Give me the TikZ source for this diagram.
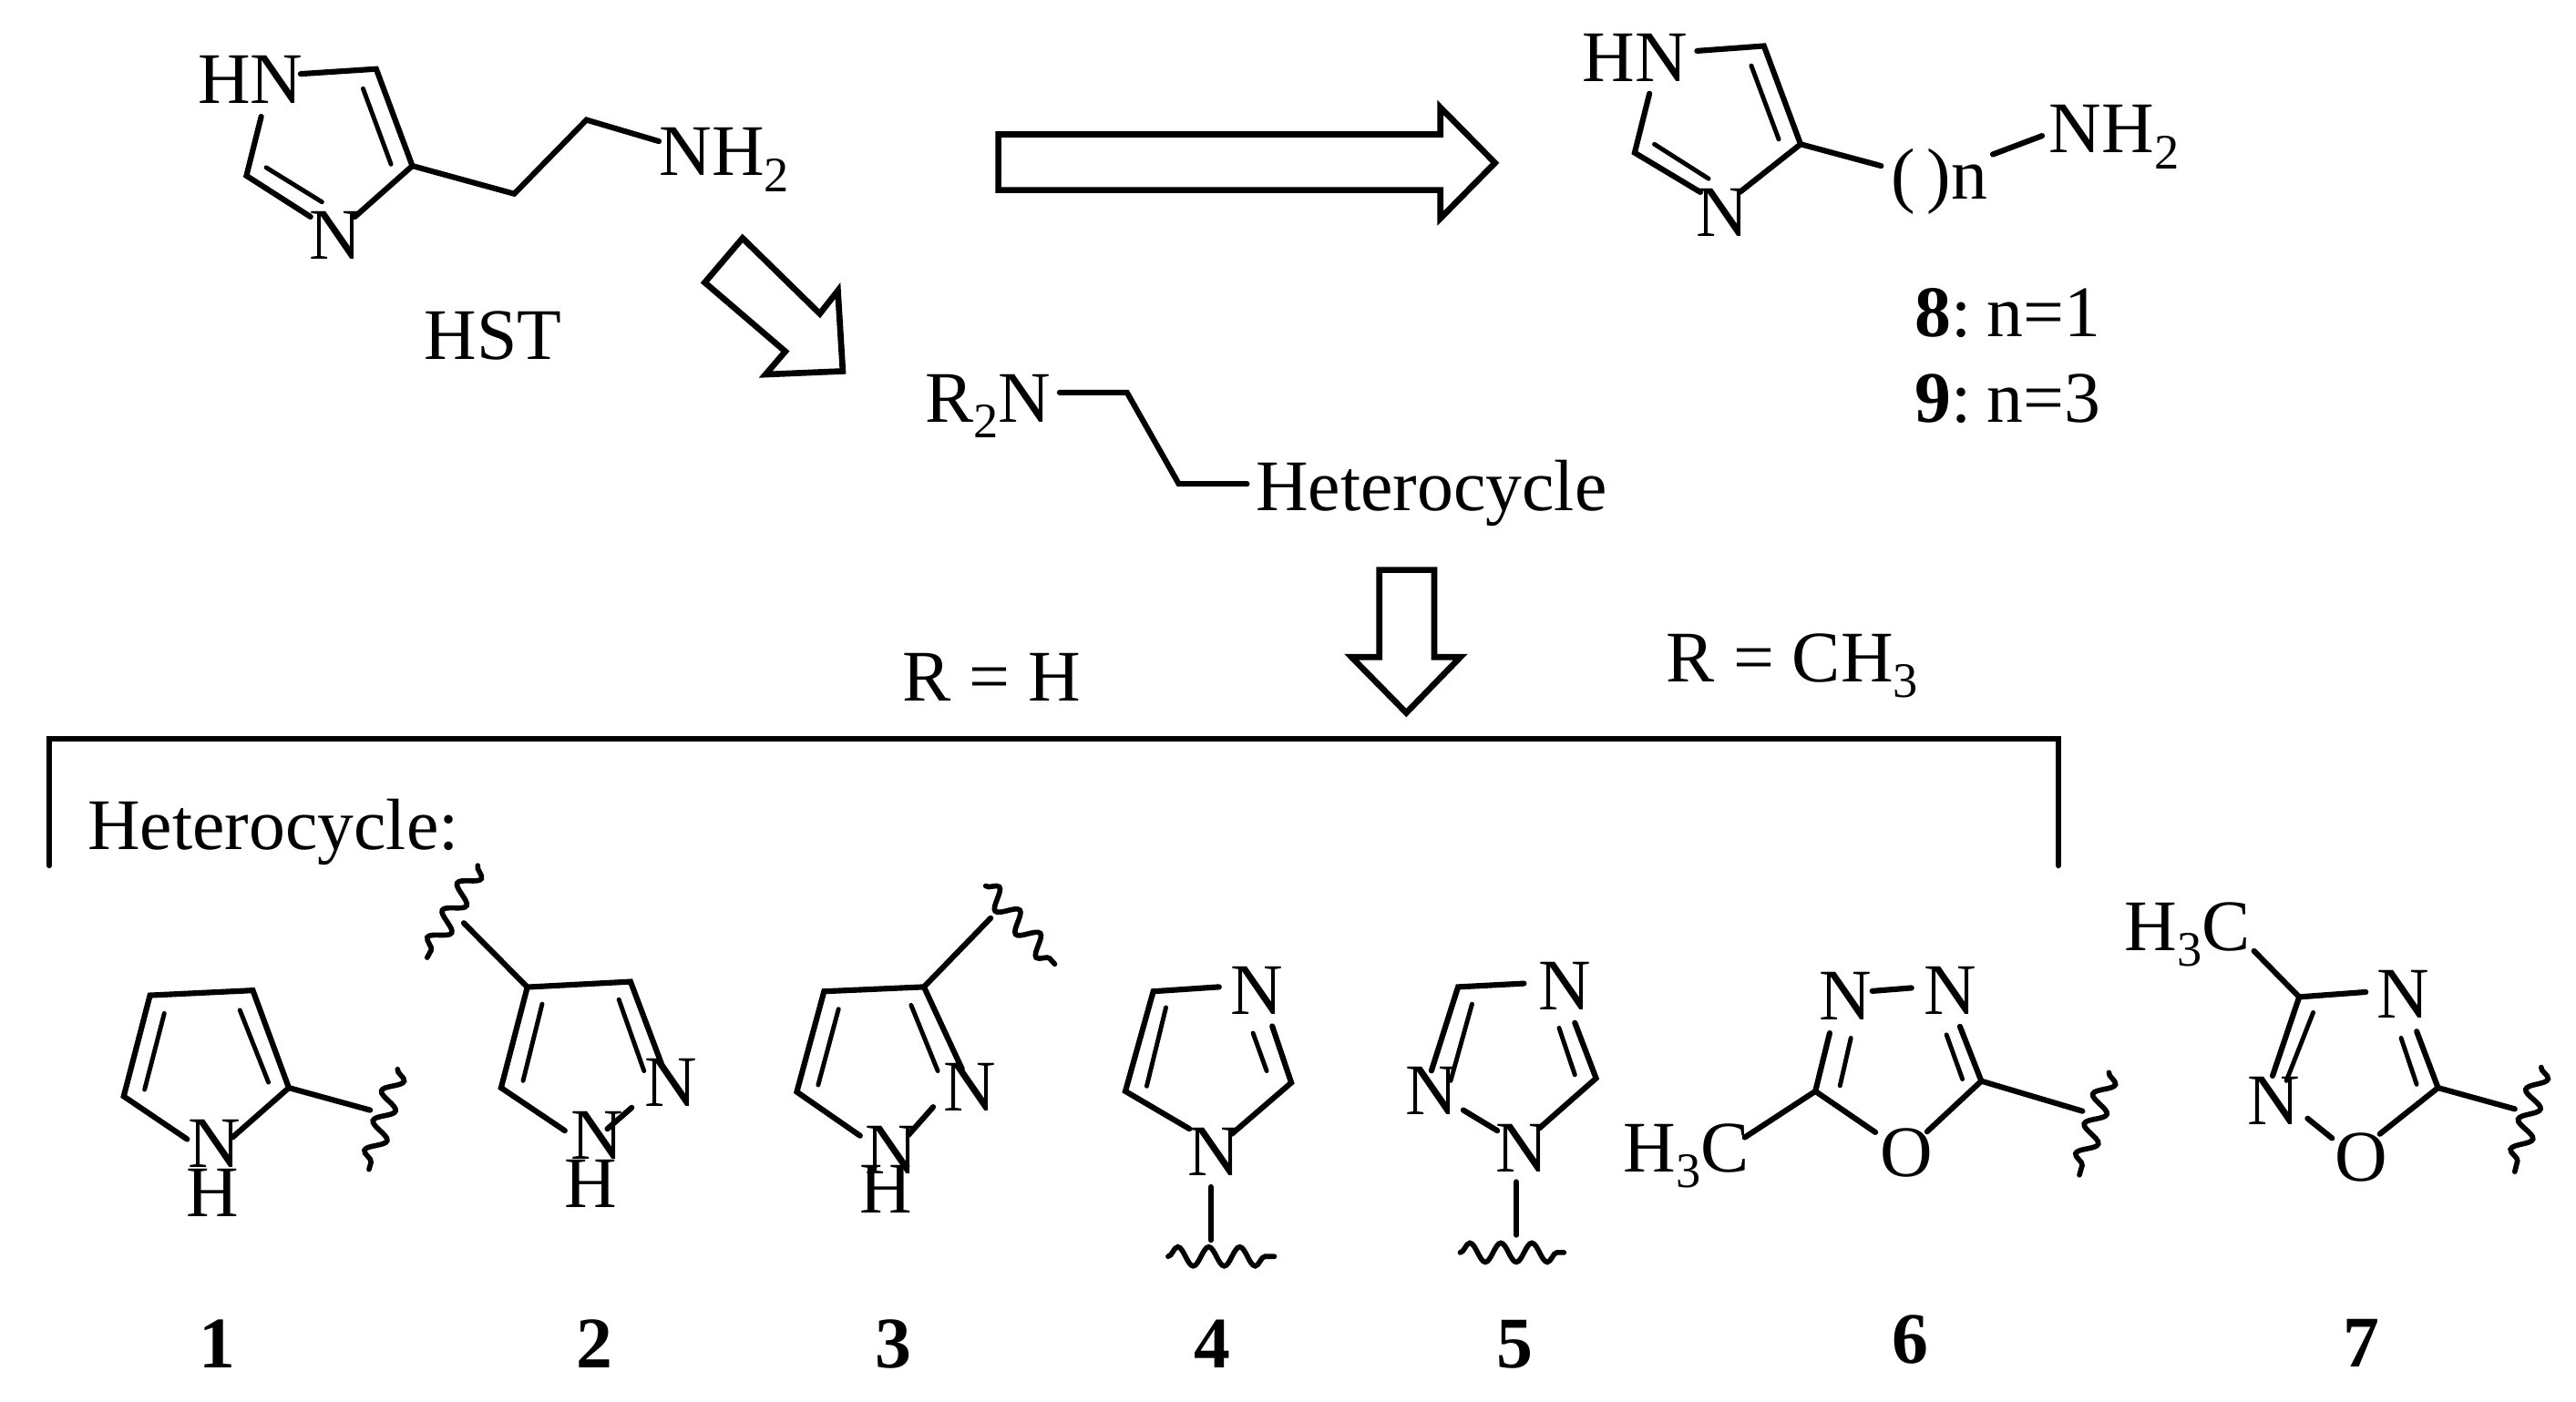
\documentclass[tikz,border=0pt]{standalone}
\usepackage{fontspec}
\setmainfont{Liberation Serif}
\usetikzlibrary{decorations.pathmorphing}
\newcommand{\subdigit}[1]{\raisebox{-0.22em}{\fontsize{15.5}{15.5}\selectfont #1}}
\tikzstyle{atom} = [anchor=base west, inner sep=0pt, font=\fontsize{22.7}{27}\selectfont]
\tikzstyle{cpdnum} = [anchor=base, inner sep=0pt, font=\fontsize{22.7}{27}\selectfont\bfseries]
\tikzstyle{bond} = [line width=1.75pt, line cap=round, line join=miter]
\tikzstyle{inbond} = [line width=1.4pt, line cap=round]
\tikzstyle{wavy} = [line width=1.6pt, line cap=round, decorate, decoration={snake, segment length=0.34cm, amplitude=0.105cm}]
\tikzstyle{blockarrow} = [line width=1.9pt, line join=miter, fill=white]

\begin{document}
\begin{tikzpicture}[x=0.018029cm, y=-0.018029cm]
  \useasboundingbox (0,0) rectangle (1568,853.6);
  % histamine
  \node (hstHN) [atom] at (120,63) {HN};
  \node (hstN) [atom] at (188,158) {N};
  \node (hstNH) [atom] at (401,107) {NH\subdigit{2}};
  \node (hstlabel) [atom] at (258,219) {HST};
  \draw [bond] (183,45) -- (229,42) -- (251,101) -- (216,132);
  \draw [bond] (159,71) -- (150,107) -- (189,132);
  \draw [inbond] (221,54) -- (238,100);
  \draw [inbond] (162,102) -- (196,123);
  \draw [bond] (251,101) -- (313,118) -- (357,73) -- (401,86);
  % block arrows
  \draw [blockarrow] (452,145) -- (429,172) -- (478,214) -- (466,228) -- (513,226) -- (510,177) -- (499,191) -- cycle;
  \draw [blockarrow] (607.7,81.8) -- (876.8,81.8) -- (876.8,65.5) -- (910,99.2) -- (876.8,132.9) -- (876.8,115.7) -- (607.7,115.7) -- cycle;
  \draw [blockarrow] (839.6,347) -- (873,347) -- (873,400) -- (889,400) -- (856,434) -- (822.6,400) -- (839.6,400) -- cycle;
  % homologues
  \node (homHN) [atom] at (963,49.6) {HN};
  \node (homN) [atom] at (1032,144) {N};
  \node (homn) [atom] at (1151,121) {(\hspace{3.5pt})n};
  \node (homNH) [atom] at (1247,93) {NH\subdigit{2}};
  \node (hom8) [atom] at (1165,205) {\textbf{8}:\kern-2.5pt{} n=1};
  \node (hom9) [atom] at (1165,257) {\textbf{9}:\kern-2.5pt{} n=3};
  \draw [bond] (1033,31) -- (1073.7,28) -- (1096,87.8) -- (1059,117);
  \draw [bond] (1004,57) -- (995,93) -- (1035,117);
  \draw [inbond] (1066,40) -- (1082.7,84.8);
  \draw [inbond] (1007,87.8) -- (1040,108.8);
  \draw [bond] (1096,87.8) -- (1145,101);
  \draw [bond] (1213,94) -- (1243,82.7);
  % general structure
  \node (genR) [atom] at (562.6,257) {R\subdigit{2}N};
  \node (genhet) [atom] at (764,311) {Heterocycle};
  \draw [bond] (645,239) -- (686,239) -- (717.5,294.6) -- (759,294.6);
  \node (rH) [atom] at (549,427) {R = H};
  \node (rCH) [atom] at (1014,415) {R = CH\subdigit{3}};
  \draw [bond] (30,527) -- (30,450) -- (1253,450) -- (1253,527);
  \node (hetlabel) [atom] at (53,517) {Heterocycle:};
  % 1
  \node (aN) [atom] at (114,711) {N};
  \node (aH) [atom] at (113,741) {H};
  \draw [bond] (113.9,693.6) -- (75.3,667.5) -- (91.3,606) -- (153.9,603) -- (175.8,662.3) -- (141.5,692.5);
  \draw [inbond] (100,617) -- (88,663.4);
  \draw [inbond] (146,615) -- (163.4,659);
  \draw [bond] (175.8,662.3) -- (225.3,675.9);
  \draw [wavy] (242,651) -- (224.6,712);
  \node (num1) [cpdnum] at (132,833) {1};
  % 2
  \node (bN) [atom] at (392,673.4) {N};
  \node (bNH) [atom] at (347,706) {N};
  \node (bH) [atom] at (343,735) {H};
  \draw [bond] (402.5,647.3) -- (383.8,597.7) -- (321,601) -- (305,662.3) -- (343.8,688.4);
  \draw [bond] (369.7,687.3) -- (384.5,674.4);
  \draw [inbond] (376.7,608.6) -- (392,652);
  \draw [inbond] (330,611.3) -- (318.4,658);
  \draw [bond] (321,601) -- (282.3,562);
  \draw [wavy] (290.8,527) -- (260,583);
  \node (num2) [cpdnum] at (362,833) {2};
  % 3
  \node (cN) [atom] at (574,676.5) {N};
  \node (cNH) [atom] at (526,714.4) {N};
  \node (cH) [atom] at (523,738.4) {H};
  \draw [bond] (585.6,650.9) -- (562.4,600.9) -- (501.6,603.6) -- (485,664.8) -- (523.5,691.5);
  \draw [bond] (553,691) -- (568,674);
  \draw [inbond] (554.6,612) -- (570.8,652);
  \draw [inbond] (510.4,614.4) -- (498,660.6);
  \draw [bond] (562.4,600.9) -- (603,559);
  \draw [wavy] (600,539.4) -- (642,587);
  \node (num3) [cpdnum] at (544,833) {3};
  % 4
  \node (dNt) [atom] at (748.5,617.5) {N};
  \node (dN) [atom] at (722.7,716) {N};
  \draw [bond] (742,600.9) -- (702,603.6) -- (685,664.4) -- (724,687.3);
  \draw [bond] (774.4,624.8) -- (786,659.2) -- (749.8,690.4);
  \draw [inbond] (762.7,629) -- (771,652);
  \draw [inbond] (709.7,613.4) -- (698,661.3);
  \draw [bond] (737,722.7) -- (737,755);
  \draw [wavy] (711,765) -- (775.7,765);
  \node (num4) [cpdnum] at (738,833) {4};
  % 5
  \node (eNt) [atom] at (936,614.8) {N};
  \node (eNl) [atom] at (855,678.6) {N};
  \node (eN) [atom] at (910,713.8) {N};
  \draw [bond] (927.6,598.8) -- (887.5,600.9) -- (871.3,651.9);
  \draw [bond] (958.6,622.7) -- (971.5,656.5) -- (937,686.9);
  \draw [bond] (890.7,675.9) -- (911.4,688.4);
  \draw [inbond] (949,625.9) -- (958.6,654.4);
  \draw [inbond] (896,611.3) -- (883,658);
  \draw [bond] (923,719.6) -- (923,751.9);
  \draw [wavy] (888.8,762.6) -- (952,762.6);
  \node (num5) [cpdnum] at (922,833) {5};
  % 6
  \node (fNl) [atom] at (1107,621) {N};
  \node (fNr) [atom] at (1170.6,617.5) {N};
  \node (fO) [atom] at (1144,716.5) {O};
  \node (fCH) [atom] at (987.7,713.4) {H\subdigit{3}C};
  \draw [bond] (1139.6,603.4) -- (1163.5,601.5);
  \draw [bond] (1113.7,629) -- (1105,664.4) -- (1141.5,689.4);
  \draw [bond] (1193,625) -- (1206,658.2) -- (1173,689);
  \draw [inbond] (1126.6,632) -- (1120,661);
  \draw [inbond] (1184.8,630) -- (1194.5,657);
  \draw [bond] (1105,664.4) -- (1062,692.5);
  \draw [bond] (1206,658.2) -- (1267.6,676.5);
  \draw [wavy] (1283.7,653) -- (1265.7,715.4);
  \node (num6) [cpdnum] at (1163,830) {6};
  % 7
  \node (gCH) [atom] at (1292.8,578.6) {H\subdigit{3}C};
  \node (gNt) [atom] at (1446.6,620) {N};
  \node (gNl) [atom] at (1367.8,684.6) {N};
  \node (gO) [atom] at (1420.8,719) {O};
  \draw [bond] (1372,579) -- (1399.5,607) -- (1440,604);
  \draw [bond] (1399.5,607) -- (1383.3,655);
  \draw [bond] (1471,628) -- (1484,662.3) -- (1448.6,690.4);
  \draw [bond] (1404.6,681) -- (1419.5,693);
  \draw [inbond] (1461.5,632) -- (1471,660.2);
  \draw [inbond] (1408,616.5) -- (1391.7,658);
  \draw [bond] (1484,662.3) -- (1530.7,675.2);
  \draw [wavy] (1546.8,649.8) -- (1530.7,713.4);
  \node (num7) [cpdnum] at (1437.5,832) {7};
\end{tikzpicture}
\end{document}
